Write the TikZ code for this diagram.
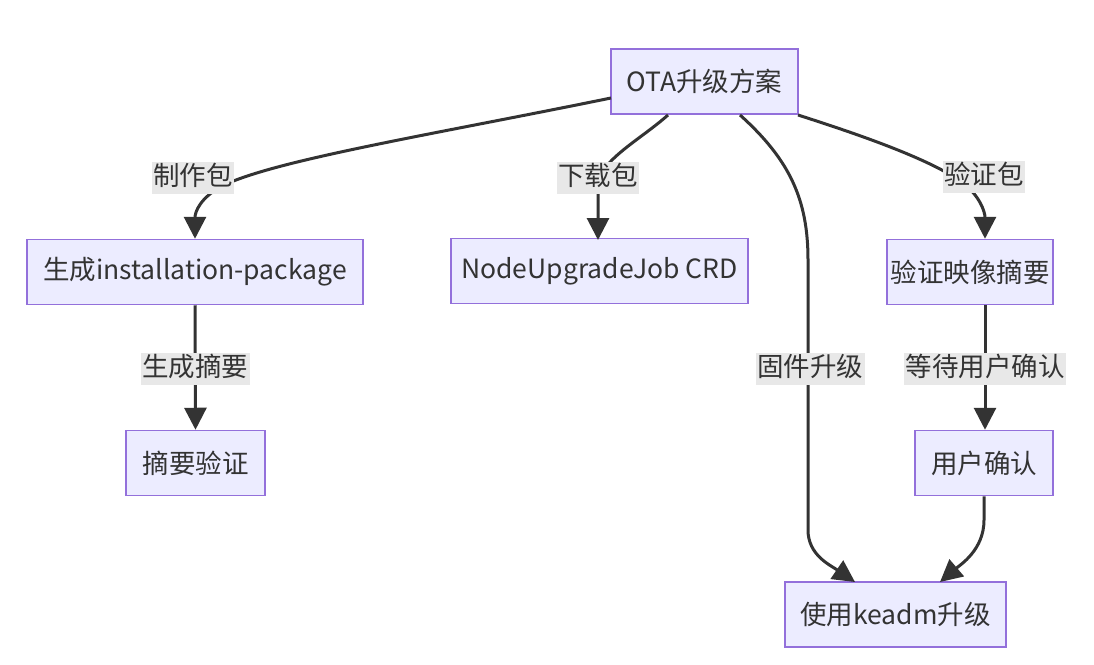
\documentclass[tikz,border=0pt]{standalone}
\usepackage{fontspec}
\setmainfont{Noto Sans CJK SC}
\usetikzlibrary{arrows.meta}
\definecolor{nodefill}{HTML}{ECECFF}
\definecolor{nodeline}{HTML}{9370DB}
\definecolor{ink}{HTML}{333333}
\definecolor{lblbg}{HTML}{E8E8E8}
\begin{document}
\begin{tikzpicture}[x=1pt,y=-1pt,
  box/.style={draw=nodeline,fill=nodefill,line width=1.5pt,minimum height=65pt,inner sep=0pt,
    font=\fontsize{26.5}{30}\selectfont,text=ink},
  lbl/.style={fill=lblbg,inner xsep=1.5pt,inner ysep=1pt,text height=22pt,text depth=8pt,
    font=\fontsize{26.5}{30}\selectfont,text=ink},
  edge/.style={draw=ink,line width=3pt,-{Triangle[length=22pt,width=22pt]}},
  plain/.style={draw=ink,line width=3pt}]
\useasboundingbox (0,0) rectangle (1094,664);
% nodes
\node[box,minimum width=187pt] (ota) at (704.5,81.5) {OTA升级方案};
\node[box,minimum width=336pt] (gen) at (195,272) {生成installation-package};
\node[box,minimum width=297pt] (crd) at (599.5,271) {NodeUpgradeJob CRD};
\node[box,minimum width=166pt] (ver) at (970,272) {验证映像摘要};
\node[box,minimum width=139pt] (dig) at (195.5,463) {摘要验证};
\node[box,minimum width=138pt] (usr) at (984,463) {用户确认};
\node[box,minimum width=221pt] (kea) at (895.5,614.5) {使用keadm升级};
% waypoints
\coordinate (a1) at (611,98);
\coordinate (a2) at (668,115);
\coordinate (a3) at (740,115);
\coordinate (a4) at (798,115);
\coordinate (k1) at (855,582);
\coordinate (k2) at (940,582);
% edges
\draw[edge] (a1) .. controls (430,135) and (275,160) .. (222,186)
  .. controls (200,198) and (195,212) .. (gen.north -| 195,0);
\draw[edge] (a2) .. controls (640,140) and (600,160) .. (598,185) -- (598,240);
\draw[edge] (a3) .. controls (790,160) and (808,200) .. (808,260) -- (808,530)
  .. controls (808,555) and (830,565) .. (k1);
\draw[edge] (a4) .. controls (870,138) and (930,160) .. (962,182)
  .. controls (980,196) and (985,212) .. (ver.north -| 985,0);
\draw[edge] (gen.south) -- (dig.north);
\draw[edge] (ver.south -| 985,0) -- (usr.north -| 985,0);
\draw[edge] (usr.south) -- (984,520) .. controls (984,550) and (960,565) .. (k2);
% labels
\node[lbl] (l1) at (193,178) {制作包};
\node[lbl] (l2) at (598,178) {下载包};
\node[lbl] (l3) at (984,177) {验证包};
\node[lbl] (l4) at (195,369) {生成摘要};
\node[lbl] (l5) at (810,369) {固件升级};
\node[lbl] (l6) at (985,369) {等待用户确认};
\end{tikzpicture}
\end{document}
